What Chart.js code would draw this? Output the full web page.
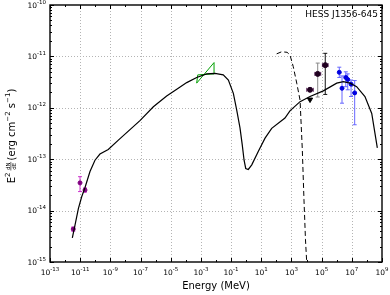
<!DOCTYPE html>
<html lang="en">
<head>
<meta charset="UTF-8">
<title>HESS J1356-645 SED</title>
<script src="https://cdn.jsdelivr.net/npm/chart.js"></script>
<style>
  html, body { margin: 0; padding: 0; background: #fff; }
  canvas { display: block; }
</style>
</head>
<body>
<canvas id="sed" width="390" height="295"></canvas>
<script>
  // all values are log10 (E in MeV, E^2 dN/dE in erg cm^-2 s^-1)
  const modelE = [-11.52, -11.34, -11.12, -10.90, -10.68, -10.35, -10.02, -9.69, -9.14, -8.47,
    -7.04, -6.15, -5.27, -4.60, -3.94, -3.28, -2.62, -2.07, -1.52, -1.18, -0.85, -0.63, -0.41,
    -0.26, -0.14, -0.03, 0.14, 0.37, 0.80, 1.25, 1.69, 2.57, 2.90, 3.57, 4.23, 5.11, 6.00, 6.44,
    6.88, 7.32, 7.87, 8.32, 8.69];
  const modelF = [-14.53, -14.28, -13.96, -13.73, -13.55, -13.24, -13.02, -12.90, -12.81, -12.63,
    -12.25, -11.98, -11.77, -11.64, -11.51, -11.41, -11.34, -11.33, -11.36, -11.46, -11.72, -12.04,
    -12.39, -12.72, -13.02, -13.18, -13.20, -13.11, -12.85, -12.59, -12.40, -12.20, -12.06, -11.88,
    -11.78, -11.67, -11.52, -11.49, -11.52, -11.59, -11.78, -12.11, -12.78];

  const pionE = [2.02, 2.35, 2.71, 2.90, 3.12, 3.35, 3.57, 3.72, 3.83, 3.93, 4.01];
  const pionF = [-10.95, -10.91, -10.92, -10.97, -11.20, -11.52, -11.85, -12.82, -13.79, -14.57, -15.0];

  const bowE = [-3.21, -2.13, -2.13, -3.28, -3.21];
  const bowF = [-11.36, -11.34, -11.12, -11.52, -11.36];

  const radioE = [-11.46, -11.01, -10.68];
  const radioF = [-14.36, -13.46, -13.60];
  const radioLo = [-14.40, -13.63, -13.64];
  const radioHi = [-14.32, -13.34, -13.56];

  const fermiE = [4.23, 4.74, 5.24];
  const fermiF = [-11.65, -11.34, -11.17];
  const fermiLo = [-11.68, -11.79, -11.74];
  const fermiHi = [-11.62, -11.13, -10.94];
  const fermiElo = [4.01, 4.55, 5.05];
  const fermiEhi = [4.45, 4.94, 5.43];
  const ulE = [4.23];
  const ulF = [-11.84];

  const hessE = [6.17, 6.35, 6.60, 6.73, 6.95, 7.19];
  const hessF = [-11.31, -11.62, -11.41, -11.45, -11.54, -11.71];
  const hessLo = [-11.41, -11.91, -11.59, -11.65, -11.78, -12.33];
  const hessHi = [-11.21, -11.38, -11.30, -11.34, -11.46, -11.47];

  const xTicks = [-13, -11, -9, -7, -5, -3, -1, 1, 3, 5, 7, 9];
  const xMinor = [-12, -10, -8, -6, -4, -2, 0, 2, 4, 6, 8];
  const yTicks = [-15, -14, -13, -12, -11, -10];

  const p10 = v => Math.pow(10, v);
  const pts = (es, fs) => es.map((e, i) => ({ x: p10(e), y: p10(fs[i]) }));
  const FONT = '"DejaVu Sans", sans-serif';

  function powLabel(ctx, exp, x, y, align) {
    const base = '10', sup = String(exp);
    ctx.font = '7.5px ' + FONT;
    const wb = ctx.measureText(base).width;
    ctx.font = '5.5px ' + FONT;
    const ws = ctx.measureText(sup).width;
    const x0 = align === 'center' ? x - (wb + ws) / 2 : x - wb - ws;
    ctx.textAlign = 'left';
    ctx.textBaseline = 'alphabetic';
    ctx.font = '7.5px ' + FONT;
    ctx.fillText(base, x0, y + 2.5);
    ctx.font = '5.5px ' + FONT;
    ctx.fillText(sup, x0 + wb, y - 1.5);
  }

  function yTitle(ctx, cx, cy) {
    const runs = [
      { t: 'E', s: 10, dy: 0 }, { t: '2', s: 7, dy: -4.5 }, { gap: 2 },
      { frac: ['dN', 'dE'], s: 5.5 }, { gap: 1.5 },
      { t: '(erg cm', s: 10, dy: 0 }, { t: '\u22122', s: 7, dy: -5 },
      { t: ' s', s: 10, dy: 0 }, { t: '\u22121', s: 7, dy: -5 }, { t: ')', s: 10, dy: 0 }
    ];
    ctx.save();
    let total = 0;
    runs.forEach(r => {
      if (r.gap) { r.w = r.gap; }
      else if (r.frac) {
        ctx.font = r.s + 'px ' + FONT;
        r.w = Math.max(ctx.measureText(r.frac[0]).width, ctx.measureText(r.frac[1]).width) + 1;
      } else {
        ctx.font = r.s + 'px ' + FONT;
        r.w = ctx.measureText(r.t).width;
      }
      total += r.w;
    });
    ctx.translate(cx, cy);
    ctx.rotate(-Math.PI / 2);
    ctx.fillStyle = '#000';
    ctx.textBaseline = 'alphabetic';
    let u = -total / 2;
    const base = 3.5;
    runs.forEach(r => {
      if (r.frac) {
        ctx.font = r.s + 'px ' + FONT;
        ctx.textAlign = 'center';
        ctx.fillText(r.frac[0], u + r.w / 2, base - 4.8);
        ctx.fillText(r.frac[1], u + r.w / 2, base + 1.8);
        ctx.fillRect(u, base - 3.9, r.w, 0.6);
      } else if (r.t) {
        ctx.font = r.s + 'px ' + FONT;
        ctx.textAlign = 'left';
        ctx.fillText(r.t, u, base + r.dy);
      }
      u += r.w;
    });
    ctx.restore();
  }

  const errorBars = [
    { e: radioE, f: radioF, lo: radioLo, hi: radioHi, color: '#cc33cc' },
    { e: fermiE, f: fermiF, lo: fermiLo, hi: fermiHi, elo: fermiElo, ehi: fermiEhi,
      color: ['#553355', '#888888', '#111111'], hcolor: '#663366' },
    { e: hessE, f: hessF, lo: hessLo, hi: hessHi, color: '#6666ff' }
  ];

  const decor = {
    id: 'decor',
    beforeDatasetsDraw(chart) {
      const { ctx, chartArea: a, scales: { x, y } } = chart;
      ctx.save();
      ctx.strokeStyle = '#b4b4b4';
      ctx.lineWidth = 1;
      ctx.setLineDash([1, 2]);
      ctx.beginPath();
      xTicks.forEach(p => {
        const px = Math.round(x.getPixelForValue(p10(p))) + 0.5;
        if (px < a.left + 2 || px > a.right - 2) return;
        ctx.moveTo(px, a.top); ctx.lineTo(px, a.bottom);
      });
      yTicks.forEach(p => {
        const py = Math.round(y.getPixelForValue(p10(p))) + 0.5;
        if (py < a.top + 2 || py > a.bottom - 2) return;
        ctx.moveTo(a.left, py); ctx.lineTo(a.right, py);
      });
      ctx.stroke();
      ctx.setLineDash([]);

      // error bars
      errorBars.forEach(s => {
        s.e.forEach((e, i) => {
          const px = x.getPixelForValue(p10(e));
          const py = y.getPixelForValue(p10(s.f[i]));
          const y1 = y.getPixelForValue(p10(s.lo[i]));
          const y2 = y.getPixelForValue(p10(s.hi[i]));
          ctx.strokeStyle = Array.isArray(s.color) ? s.color[i] : s.color;
          ctx.lineWidth = 1;
          ctx.beginPath();
          ctx.moveTo(px, y1); ctx.lineTo(px, y2);
          ctx.moveTo(px - 2, y1); ctx.lineTo(px + 2, y1);
          ctx.moveTo(px - 2, y2); ctx.lineTo(px + 2, y2);
          ctx.stroke();
          if (s.elo) {
            const x1 = x.getPixelForValue(p10(s.elo[i]));
            const x2 = x.getPixelForValue(p10(s.ehi[i]));
            ctx.strokeStyle = s.hcolor;
            ctx.beginPath();
            ctx.moveTo(x1, py); ctx.lineTo(x2, py);
            ctx.moveTo(x1, py - 2); ctx.lineTo(x1, py + 2);
            ctx.moveTo(x2, py - 2); ctx.lineTo(x2, py + 2);
            ctx.stroke();
          }
        });
      });
      ctx.restore();
    },
    afterDraw(chart) {
      const { ctx, chartArea: a, scales: { x, y } } = chart;
      ctx.save();
      ctx.strokeStyle = '#000';
      ctx.lineWidth = 1;
      ctx.beginPath();
      const xt = (v, len) => {
        const px = Math.round(x.getPixelForValue(p10(v))) + 0.5;
        ctx.moveTo(px, a.bottom); ctx.lineTo(px, a.bottom - len);
        ctx.moveTo(px, a.top); ctx.lineTo(px, a.top + len);
      };
      const yt = (v, len) => {
        const py = Math.round(y.getPixelForValue(v)) + 0.5;
        ctx.moveTo(a.left, py); ctx.lineTo(a.left + len, py);
        ctx.moveTo(a.right, py); ctx.lineTo(a.right - len, py);
      };
      xTicks.forEach(v => xt(v, 4));
      xMinor.forEach(v => xt(v, 2));
      yTicks.forEach((d, i) => {
        yt(p10(d), 4);
        if (i < yTicks.length - 1) for (let k = 2; k < 10; k++) yt(k * p10(d), 2);
      });
      ctx.stroke();

      ctx.lineWidth = 1.4;
      ctx.strokeRect(a.left, a.top, a.right - a.left, a.bottom - a.top);

      ctx.fillStyle = '#000';
      xTicks.forEach(v => powLabel(ctx, v, x.getPixelForValue(p10(v)), 272, 'center'));
      yTicks.forEach(v => powLabel(ctx, v, 46, y.getPixelForValue(p10(v)), 'right'));

      ctx.font = '10px ' + FONT;
      ctx.textAlign = 'center';
      ctx.textBaseline = 'alphabetic';
      ctx.fillText('Energy (MeV)', (a.left + a.right) / 2, 289);

      ctx.font = '9px ' + FONT;
      ctx.textAlign = 'right';
      ctx.fillText('HESS J1356-645', 378, 17);

      yTitle(ctx, 11, 136);
      ctx.restore();
    }
  };

  new Chart(document.getElementById('sed'), {
    type: 'line',
    data: {
      datasets: [
        { data: pts(modelE, modelF), borderColor: '#000', borderWidth: 1.2, pointRadius: 0, tension: 0 },
        { data: pts(pionE, pionF), borderColor: '#000', borderWidth: 1, borderDash: [5, 3], pointRadius: 0, tension: 0 },
        { data: pts(bowE, bowF), borderColor: '#00a000', borderWidth: 1, pointRadius: 0, tension: 0 },
        { data: pts(radioE, radioF), showLine: false, pointRadius: 2, pointBackgroundColor: '#800080', pointBorderColor: '#800080' },
        { data: pts(fermiE, fermiF), showLine: false, pointRadius: 2.5, pointBackgroundColor: '#200020', pointBorderColor: '#200020' },
        { data: pts(ulE, ulF), showLine: false, pointStyle: 'triangle', rotation: 180, pointRadius: 3, pointBackgroundColor: '#000', pointBorderColor: '#000' },
        { data: pts(hessE, hessF), showLine: false, pointRadius: 2, pointBackgroundColor: '#0000e0', pointBorderColor: '#0000e0' }
      ]
    },
    options: {
      responsive: false,
      animation: false,
      layout: { padding: { left: 0, right: 8, top: 5, bottom: 0 } },
      plugins: { legend: { display: false }, tooltip: { enabled: false } },
      scales: {
        x: {
          type: 'logarithmic', min: 1e-13, max: 1e9,
          grid: { display: false }, border: { display: false }, ticks: { display: false },
          afterFit: s => { s.height = 33; }
        },
        y: {
          type: 'logarithmic', min: 1e-15, max: 1e-10,
          grid: { display: false }, border: { display: false }, ticks: { display: false },
          afterFit: s => { s.width = 50; }
        }
      }
    },
    plugins: [decor]
  });
</script>
</body>
</html>
